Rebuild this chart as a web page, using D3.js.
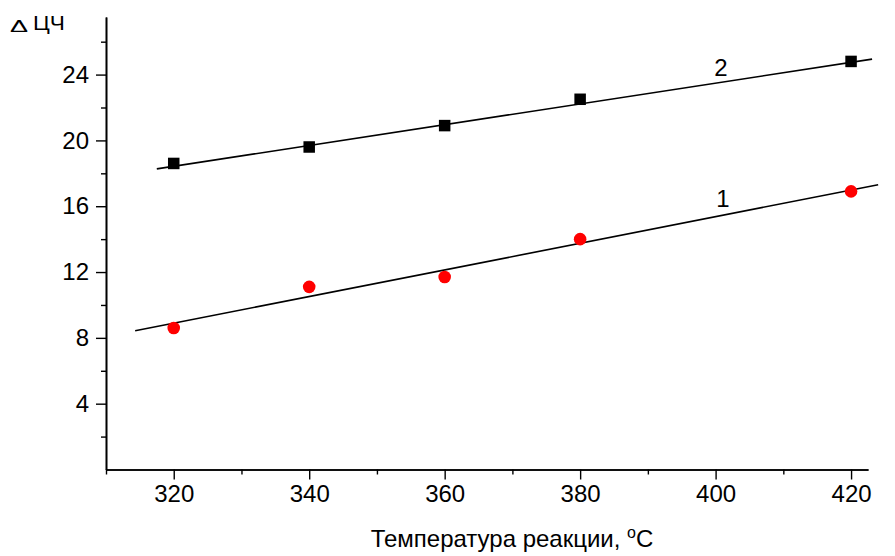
<!DOCTYPE html>
<html>
<head>
<meta charset="utf-8">
<script src="https://cdn.jsdelivr.net/npm/d3@7"></script>
<style>
  html, body { margin: 0; padding: 0; background: #fff; }
  svg { display: block; font-family: "Liberation Sans", Arial, sans-serif; }
</style>
</head>
<body>
<svg id="chart" width="895" height="556"></svg>
<script>
// ---- data ----
const temps = [320, 340, 360, 380, 420];
const series1 = [8.6, 11.1, 11.7, 14.0, 16.9];   // circles, red
const series2 = [18.6, 19.6, 20.9, 22.5, 24.8];  // squares, black
const fit1X = [314.3, 424.0];
const fit1Y = [8.43, 17.31];
const fit2X = [317.5, 423.1];
const fit2Y = [18.27, 24.94];
const xTickValues = [320, 340, 360, 380, 400, 420];
const xMinorValues = [310, 330, 350, 370, 390, 410];
const yTickValues = [4, 8, 12, 16, 20, 24];
const yMinorValues = [2, 6, 10, 14, 18, 22, 26];
const xTitle = "Температура реакции, ";
const yTitleDelta = "Δ";
const yTitle = "ЦЧ";
const curveLabels = ["1", "2"];

// ---- layout ----
const svg = d3.select("#chart");
const x = d3.scaleLinear().domain([310, 422.5]).range([106, 868]);
const y = d3.scaleLinear().domain([0, 27.5]).range([469.5, 17]);

// axes
const xAxis = d3.axisBottom(x).tickValues(xTickValues).tickSize(10).tickSizeOuter(0).tickPadding(5);
const xMinor = d3.axisBottom(x).tickValues(xMinorValues).tickSize(5).tickSizeOuter(0).tickFormat("");
const yAxis = d3.axisLeft(y).tickValues(yTickValues).tickSize(10).tickSizeOuter(0).tickPadding(7);
const yMinor = d3.axisLeft(y).tickValues(yMinorValues).tickSize(5).tickSizeOuter(0).tickFormat("");

function style(g) {
  g.selectAll("path.domain").attr("stroke", "#000").attr("stroke-width", 1.6);
  g.selectAll(".tick line").attr("stroke", "#000").attr("stroke-width", 1.4);
  g.selectAll(".tick text").attr("fill", "#000").style("font-size", "24px")
    .style("font-family", "'Liberation Sans', Arial, sans-serif");
}

svg.append("g").attr("transform", `translate(0,${y(0)})`).call(xMinor).call(style);
svg.append("g").attr("transform", `translate(0,${y(0)})`).call(xAxis).call(style);
svg.append("g").attr("transform", `translate(${x(310)},0)`).call(yMinor).call(style);
svg.append("g").attr("transform", `translate(${x(310)},0)`).call(yAxis).call(style);

// fit lines
const line = d3.line().x(d => x(d[0])).y(d => y(d[1]));
svg.append("path").datum(d3.zip(fit1X, fit1Y)).attr("d", line)
  .attr("fill", "none").attr("stroke", "#000").attr("stroke-width", 1.6);
svg.append("path").datum(d3.zip(fit2X, fit2Y)).attr("d", line)
  .attr("fill", "none").attr("stroke", "#000").attr("stroke-width", 1.6);

// markers
svg.append("g").selectAll("circle").data(d3.zip(temps, series1)).join("circle")
  .attr("cx", d => x(d[0])).attr("cy", d => y(d[1])).attr("r", 6.3).attr("fill", "#ff0000");
const sq = 11.5;
svg.append("g").selectAll("rect").data(d3.zip(temps, series2)).join("rect")
  .attr("x", d => x(d[0]) - sq / 2).attr("y", d => y(d[1]) - sq / 2)
  .attr("width", sq).attr("height", sq).attr("fill", "#000");

// curve labels
svg.append("text").attr("x", 723).attr("y", 207).attr("text-anchor", "middle")
  .style("font-size", "24px").text(curveLabels[0]);
svg.append("text").attr("x", 721).attr("y", 76).attr("text-anchor", "middle")
  .style("font-size", "24px").text(curveLabels[1]);

// x title
const xt = svg.append("text").attr("x", 512).attr("y", 547).attr("text-anchor", "middle")
  .style("font-size", "24px");
xt.append("tspan").text(xTitle);
xt.append("tspan").attr("dy", -9).style("font-size", "16px").text("o");
xt.append("tspan").attr("dy", 9).text("C");

// y title
svg.append("text").attr("x", 0).attr("y", 0).style("font-size", "18px")
  .attr("transform", "translate(10,32) scale(1.5,0.9)").text(yTitleDelta);
svg.append("text").attr("x", 0).attr("y", 0).style("font-size", "21px")
  .attr("transform", "translate(33,30) scale(1.08,1)").text(yTitle);
</script>
</body>
</html>
